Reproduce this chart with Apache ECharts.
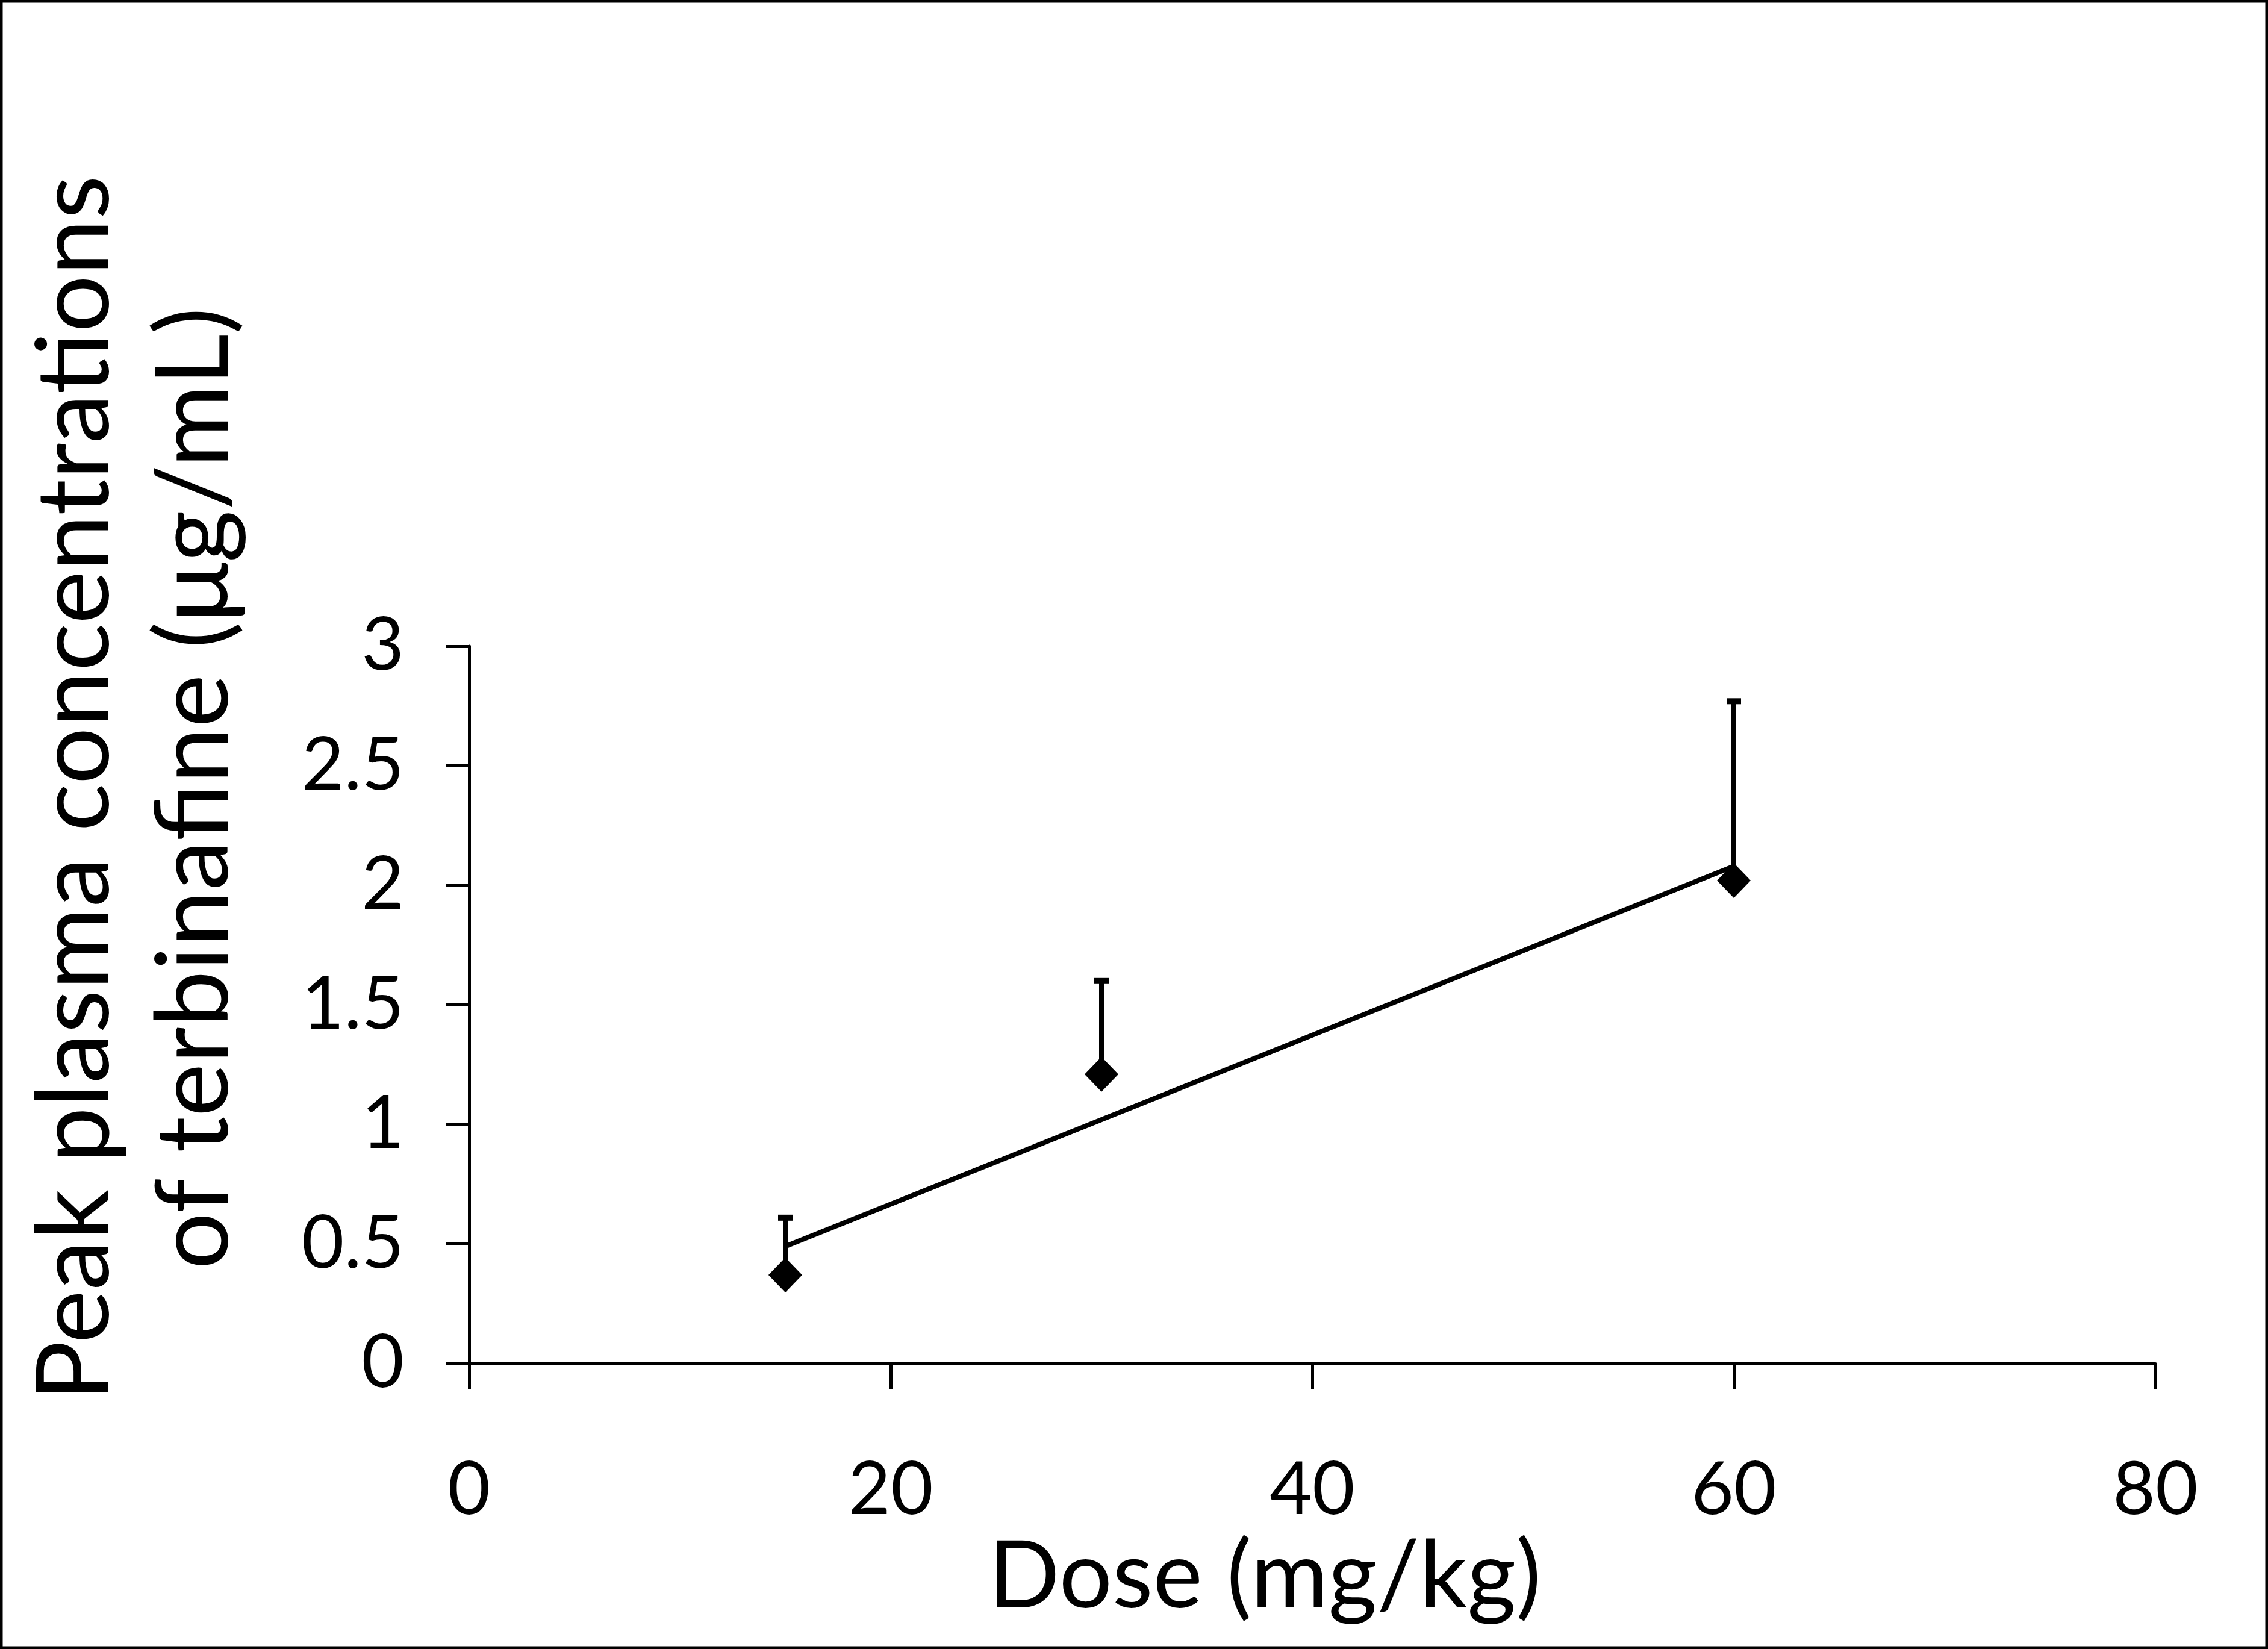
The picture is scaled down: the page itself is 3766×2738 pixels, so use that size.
<!DOCTYPE html>
<html>
<head>
<meta charset="utf-8">
<script src="https://cdn.jsdelivr.net/npm/echarts@6/dist/echarts.min.js"></script>
<style>
html,body{margin:0;padding:0;background:#fff;}
#chart{width:3766px;height:2738px;}
</style>
</head>
<body>
<div id="chart"></div>
<script>
// ---- data ----
const doses = [15, 30, 60];                 // mg/kg
const meanConc = [0.37, 1.21, 2.02];        // µg/mL
const sdConc = [0.24, 0.39, 0.75];          // upper error bar length
const trendDose = [15, 60];
const trendConc = [0.49, 2.08];
const xTickValues = [0, 20, 40, 60, 80];
const yTickLabels = ['0', '0.5', '1', '1.5', '2', '2.5', '3'];
const xTitle = 'Dose (mg/kg)';
const yTitleLine1 = 'Peak plasma concentrations';
const yTitleLine2 = 'of terbinafine (μg/mL)';

const FONT = 'Lato, "Open Sans", sans-serif';
const chart = echarts.init(document.getElementById('chart'), null, {renderer: 'canvas'});

const pointData = doses.map((d, i) => [d, meanConc[i]]);
const errData = doses.map((d, i) => [d, meanConc[i], meanConc[i] + sdConc[i]]);
const trendData = trendDose.map((d, i) => [d, trendConc[i]]);

const option = {
  backgroundColor: '#ffffff',
  animation: false,
  grid: {left: 779, right: 187, top: 1073, bottom: 474, containLabel: false},
  xAxis: {
    type: 'value', min: 0, max: 80, interval: 20,
    axisLine: {show: true, onZero: false, lineStyle: {color: '#000', width: 5}},
    axisTick: {show: true, inside: false, length: 42, lineStyle: {color: '#000', width: 5}},
    splitLine: {show: false},
    axisLabel: {
      color: '#000', fontFamily: FONT, fontSize: 122, lineHeight: 122, margin: 150,
      formatter: v => (xTickValues.indexOf(v) >= 0 ? String(v) : '')
    }
  },
  yAxis: {
    type: 'value', min: 0, max: 3, interval: 0.5,
    axisLine: {show: true, onZero: false, lineStyle: {color: '#000', width: 5}},
    axisTick: {show: true, inside: false, length: 39, lineStyle: {color: '#000', width: 5}},
    splitLine: {show: false},
    axisLabel: {
      color: '#000', fontFamily: FONT, fontSize: 122, margin: 108,
      formatter: v => yTickLabels[Math.round(v / 0.5)]
    }
  },
  series: [
    {
      type: 'line', data: trendData, showSymbol: false, symbol: 'none',
      lineStyle: {color: '#000', width: 8, opacity: 1}, z: 2, silent: true
    },
    {
      type: 'custom', data: errData, z: 3, silent: true,
      encode: {x: 0, y: [1, 2]},
      renderItem: function (params, api) {
        const x = api.value(0), y = api.value(1), hi = api.value(2);
        const p0 = api.coord([x, y]);
        const p1 = api.coord([x, hi]);
        return {
          type: 'group',
          children: [
            {type: 'line', shape: {x1: p0[0], y1: p0[1], x2: p1[0], y2: p1[1] - 4},
             style: {stroke: '#000', lineWidth: 8}},
            {type: 'line', shape: {x1: p1[0] - 12, y1: p1[1], x2: p1[0] + 12, y2: p1[1]},
             style: {stroke: '#000', lineWidth: 10}}
          ]
        };
      }
    },
    {
      type: 'scatter', data: pointData, symbol: 'diamond', symbolSize: [56, 58],
      itemStyle: {color: '#000', opacity: 1}, z: 4, silent: true
    }
  ],
  graphic: [
    {type: 'rect', shape: {x: 0, y: 0, width: 3766, height: 2738},
     style: {fill: 'none', stroke: '#000', lineWidth: 9}, z: 100},
    {type: 'text', x: 2100, y: 2619,
     style: {text: xTitle, font: '156px ' + FONT, fill: '#000', align: 'center', verticalAlign: 'middle'}},
    {type: 'text', x: 126, y: 1309, rotation: Math.PI / 2,
     style: {text: yTitleLine1, font: '167px ' + FONT, fill: '#000', align: 'center', verticalAlign: 'middle'}},
    {type: 'text', x: 324, y: 1309, rotation: Math.PI / 2,
     style: {text: yTitleLine2, font: '167px ' + FONT, fill: '#000', align: 'center', verticalAlign: 'middle'}}
  ]
};
chart.setOption(option);
</script>
</body>
</html>
